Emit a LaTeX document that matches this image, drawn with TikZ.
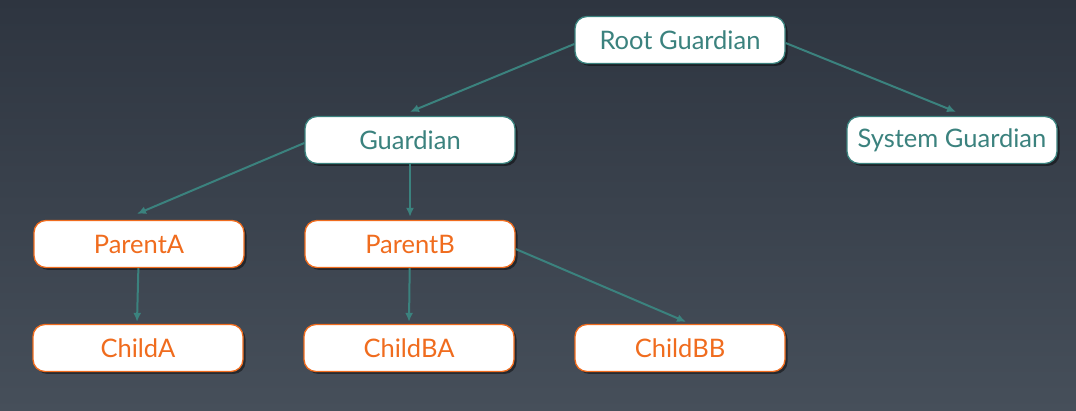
\documentclass[tikz,border=0pt]{standalone}
\usepackage{fontspec}
\setmainfont{Lato}
\usetikzlibrary{arrows.meta,shadows}
\definecolor{bgtop}{RGB}{46,53,64}
\definecolor{bgbot}{RGB}{70,79,90}
\definecolor{teal}{RGB}{59,130,126}
\definecolor{orng}{RGB}{240,108,30}
\tikzset{
  box/.style={draw, fill=white, rounded corners=12pt, minimum width=210pt, minimum height=47pt, line width=1.3pt, font=\fontsize{25.5}{28}\selectfont, inner sep=0pt,
    drop shadow={shadow xshift=2.5pt, shadow yshift=-2.5pt, opacity=0.45, fill=black}},
  gbox/.style={box, draw=teal, text=teal},
  obox/.style={box, draw=orng, text=orng},
  conn/.style={draw=teal, line width=2pt, -{Latex[length=9pt,width=8pt]}}
}
\begin{document}
\begin{tikzpicture}[x=1pt,y=-1pt]
\shade[top color=bgtop, bottom color=bgbot] (0,0) rectangle (1076,411);
\useasboundingbox (0,0) rectangle (1076,411);
\node[gbox] (root) at (680,40) {Root Guardian};
\node[gbox] (guard) at (410,140) {Guardian};
\node[gbox] (sys) at (952,140) {System Guardian};
\node[obox] (pa) at (139,244) {ParentA};
\node[obox] (pb) at (410,244) {ParentB};
\node[obox] (ca) at (138,348) {ChildA};
\node[obox] (cba) at (409,348) {ChildBA};
\node[obox] (cbb) at (680,348) {ChildBB};
\draw[conn] ([yshift=-4pt]root.west) -- ([yshift=4pt]guard.north);
\draw[conn] ([yshift=-3pt]root.east) -- ([xshift=4pt,yshift=4pt]sys.north);
\draw[conn] ([yshift=-3pt]guard.west) -- ([xshift=-2pt,yshift=6pt]pa.north);
\draw[conn] (guard) -- ([yshift=3pt]pb.north);
\draw[conn] (pa) -- ([xshift=-1pt,yshift=2pt]ca.north);
\draw[conn] (pb) -- ([yshift=2pt]cba.north);
\draw[conn] ([yshift=-5pt]pb.east) -- ([xshift=6pt,yshift=2pt]cbb.north);
\end{tikzpicture}
\end{document}
